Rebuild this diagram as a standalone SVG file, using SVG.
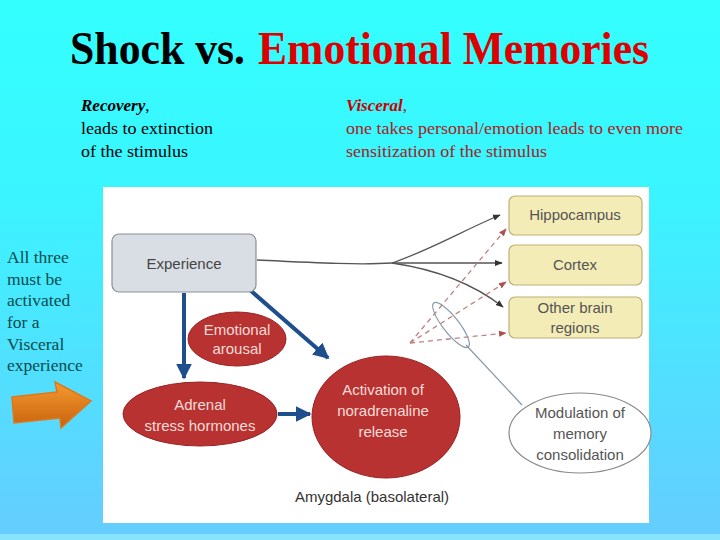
<svg xmlns="http://www.w3.org/2000/svg" width="720" height="540" viewBox="0 0 720 540">
<defs>
<linearGradient id="bg" x1="0" y1="0" x2="0" y2="1">
<stop offset="0" stop-color="#33ffff"/>
<stop offset="0.35" stop-color="#3af5ff"/>
<stop offset="1" stop-color="#66ccff"/>
</linearGradient>
<linearGradient id="org" x1="0" y1="0" x2="0" y2="1">
<stop offset="0" stop-color="#f59a30"/>
<stop offset="1" stop-color="#c8620e"/>
</linearGradient>
<marker id="blue" viewBox="0 0 10 10" refX="9" refY="5" markerWidth="4" markerHeight="4" orient="auto" markerUnits="strokeWidth">
<path d="M0,0 L10,5 L0,10 z" fill="#1f4e8c"/>
</marker>
<marker id="gray" viewBox="0 0 10 10" refX="9" refY="5" markerWidth="6" markerHeight="6" orient="auto" markerUnits="strokeWidth">
<path d="M0,1 L10,5 L0,9 z" fill="#333"/>
</marker>
<marker id="red" viewBox="0 0 10 10" refX="9" refY="5" markerWidth="6" markerHeight="6" orient="auto" markerUnits="strokeWidth">
<path d="M0,1 L10,5 L0,9 z" fill="#b05050"/>
</marker>
<style>
.serif{font-family:"Liberation Serif","Times New Roman",serif}
.sans{font-family:"Liberation Sans",Arial,sans-serif}
.sub{font-size:17px}
.left{font-size:17.5px;fill:#0b4b4b}
.redn{fill:#b83232;stroke:#9a2222;stroke-width:1}
.redt{fill:#f6dcd6;font-size:15px;text-anchor:middle}
.yel{fill:#f3ecb6;stroke:#bfb07a;stroke-width:1.2}
.yt{fill:#555;font-size:15px;text-anchor:middle}
.blue{stroke:#1f4e8c;stroke-width:4;fill:none}
.gl{stroke:#555;stroke-width:1.3;fill:none}
.rd{stroke:#c08080;stroke-width:1.3;fill:none;stroke-dasharray:5 4}
</style>
</defs>
<rect x="0" y="0" width="720" height="540" fill="url(#bg)"/>
<rect x="0" y="534" width="720" height="6" fill="#86e4ff"/>

<g id="title">
<text x="70" y="64" class="serif" font-size="46" font-weight="bold" fill="#000" textLength="175" lengthAdjust="spacingAndGlyphs">Shock vs.</text>
<text x="258" y="64" class="serif" font-size="46" font-weight="bold" fill="#dd0000" textLength="391" lengthAdjust="spacingAndGlyphs">Emotional Memories</text>
</g>

<g id="recovery" class="serif sub">
<text x="81" y="111" font-weight="bold" font-style="italic">Recovery<tspan font-weight="normal" font-style="normal">,</tspan></text>
<text x="81" y="134" textLength="132" lengthAdjust="spacingAndGlyphs">leads to extinction</text>
<text x="81" y="157" textLength="107" lengthAdjust="spacingAndGlyphs">of the stimulus</text>
</g>

<g id="visceral" class="serif sub" fill="#a82020">
<text x="346" y="111" font-weight="bold" font-style="italic" fill="#cc0000">Visceral<tspan font-weight="normal" font-style="normal" fill="#a82020">,</tspan></text>
<text x="346" y="134" textLength="337" lengthAdjust="spacingAndGlyphs">one takes personal/emotion leads to even more</text>
<text x="346" y="157" textLength="201" lengthAdjust="spacingAndGlyphs">sensitization of the stimulus</text>
</g>

<g id="note" class="serif left">
<text x="7" y="263">All three</text>
<text x="7" y="285">must be</text>
<text x="7" y="306">activated</text>
<text x="7" y="328">for a</text>
<text x="7" y="350">Visceral</text>
<text x="7" y="371">experience</text>
</g>

<g id="orange-arrow">
<polygon points="12,397 57,392 55,382 91,401 61,428 60,418 14,423" fill="url(#org)" stroke="#e07818" stroke-width="1.5"/>
</g>

<rect id="panel" x="103" y="187" width="546" height="336" fill="#ffffff"/>

<g id="connectors">
<line x1="184" y1="293" x2="184" y2="378" class="blue" marker-end="url(#blue)"/>
<line x1="250" y1="290" x2="328" y2="358" class="blue" marker-end="url(#blue)"/>
<line x1="278" y1="414" x2="310" y2="414" class="blue" marker-end="url(#blue)"/>
<path d="M257,260 C320,263 360,265 392,263" class="gl"/>
<path d="M392,263 C430,250 460,232 500,215" class="gl" marker-end="url(#gray)"/>
<path d="M392,263 L502,263" class="gl" marker-end="url(#gray)"/>
<path d="M392,263 C440,270 475,285 503,307" class="gl" marker-end="url(#gray)"/>
<path d="M410,343 L506,229" class="rd" marker-end="url(#red)"/>
<path d="M410,343 L506,282" class="rd" marker-end="url(#red)"/>
<path d="M410,343 L506,333" class="rd" marker-end="url(#red)"/>
<ellipse cx="451" cy="325" rx="28" ry="8" transform="rotate(52 451 325)" fill="none" stroke="#8899aa" stroke-width="1.2"/>
<line x1="466" y1="345" x2="522" y2="405" stroke="#8899aa" stroke-width="1.2"/>
</g>

<g id="experience">
<rect x="112" y="234" width="144" height="58" rx="7" fill="#d9dee4" stroke="#8a9098" stroke-width="1.2"/>
<text x="184" y="269" class="sans" font-size="15" fill="#444" text-anchor="middle">Experience</text>
</g>

<g id="emotional-arousal">
<ellipse cx="237" cy="339" rx="49" ry="27" class="redn"/>
<text class="sans redt" x="237" y="335">Emotional</text>
<text class="sans redt" x="237" y="354">arousal</text>
</g>

<g id="adrenal">
<ellipse cx="200" cy="414" rx="77" ry="32" class="redn"/>
<text class="sans redt" x="200" y="410">Adrenal</text>
<text class="sans redt" x="200" y="431">stress hormones</text>
</g>

<g id="activation">
<ellipse cx="386" cy="417" rx="74" ry="61" class="redn"/>
<text class="sans redt" x="383" y="395">Activation of</text>
<text class="sans redt" x="383" y="416">noradrenaline</text>
<text class="sans redt" x="383" y="437">release</text>
</g>

<text id="amygdala" x="372" y="502" class="sans" font-size="15" fill="#333" text-anchor="middle">Amygdala (basolateral)</text>

<g id="hippocampus">
<rect x="509" y="196" width="133" height="39" rx="6" class="yel"/>
<text class="sans yt" x="575" y="220">Hippocampus</text>
</g>
<g id="cortex">
<rect x="509" y="245" width="133" height="40" rx="6" class="yel"/>
<text class="sans yt" x="575" y="270">Cortex</text>
</g>
<g id="other">
<rect x="509" y="297" width="133" height="41" rx="6" class="yel"/>
<text class="sans yt" x="575" y="313">Other brain</text>
<text class="sans yt" x="575" y="333">regions</text>
</g>

<g id="modulation">
<ellipse cx="580" cy="433" rx="71" ry="40" fill="#fff" stroke="#8a8a8a" stroke-width="1.2"/>
<text class="sans yt" x="580" y="418">Modulation of</text>
<text class="sans yt" x="580" y="439">memory</text>
<text class="sans yt" x="580" y="460">consolidation</text>
</g>
</svg>
